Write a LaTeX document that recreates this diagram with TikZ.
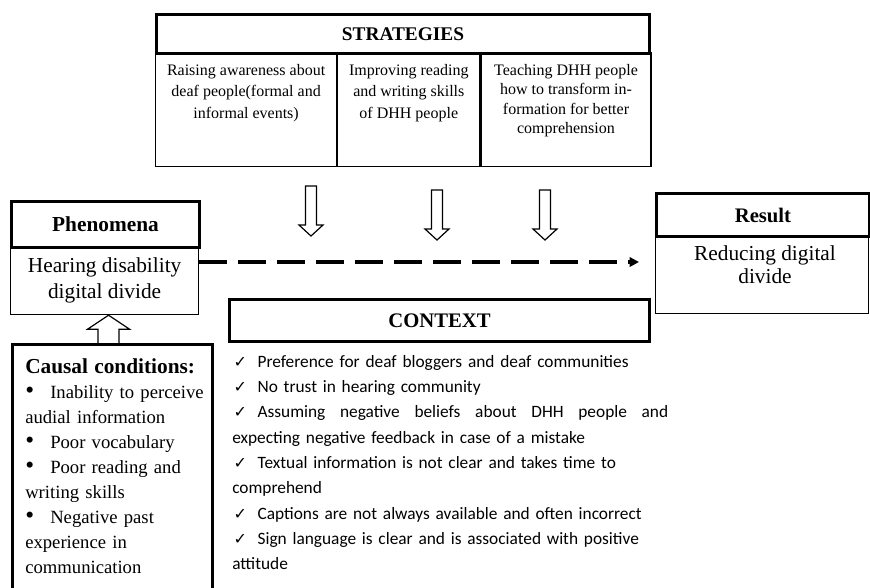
\documentclass[tikz,border=0pt]{standalone}
\usepackage{fontspec}
\setmainfont{Liberation Serif}
\newfontfamily\ctxfont{Carlito}
\newfontfamily\symfont{DejaVu Sans}
\usetikzlibrary{arrows.meta,positioning,calc}

\newcommand{\ck}{\makebox[19pt][l]{\hspace{1pt}\symfont\fontsize{12}{12}\selectfont ✓}}
\newcommand{\bul}{\makebox[18.75pt][l]{\fontsize{19}{19}\selectfont\textbullet}}

\begin{document}
\begin{tikzpicture}[x=0.75pt,y=-0.75pt,
  thinbox/.style={draw,line width=0.9pt,inner sep=0pt,anchor=north west},
  thickbox/.style={draw,line width=2.2pt,inner sep=0pt,anchor=north west},
  headtext/.style={font=\fontsize{15.5}{18}\selectfont\bfseries},
  celltext/.style={font=\fontsize{12}{16}\selectfont,align=center,inner sep=0pt,anchor=north},
  hollow/.style={draw,line width=0.9pt,line join=miter},
  dashline/.style={line width=2.4pt,dash pattern=on 21pt off 8.25pt,-{Triangle[length=7pt,width=7pt]}}]
  \useasboundingbox (0,0) rectangle (870,587);
  \clip (0,0) rectangle (870,587);

  % Strategies table
  \node[thinbox,minimum width=135.75pt,minimum height=85.5pt] (cellA) at (155,52) {};
  \node[thinbox,minimum width=106.5pt,minimum height=85.5pt] (cellB) at (cellA.north east) {};
  \node[thinbox,minimum width=127.5pt,minimum height=85.5pt] (cellC) at (cellB.north east) {};
  \node[thickbox,minimum width=369.75pt,minimum height=29.25pt,headtext,font=\fontsize{14.5}{17}\selectfont\bfseries] (strat) at (155,13) {STRATEGIES};
  \node[celltext] (txtA) at (cellA.north |- 0,64) {Raising awareness about\\deaf people(formal and\\informal events)};
  \node[celltext] (txtB) at (cellB.north |- 0,64) {Improving reading\\and writing skills\\of DHH people};
  \node[celltext,font=\fontsize{12}{14.6}\selectfont] (txtC) at (cellC.north |- 0,64) {Teaching DHH people\\how to transform in-\\formation for better\\comprehension};

  % hollow arrows below the strategies
  \foreach \x/\t/\h/\b in {311/186/225/236, 437/190/229/240, 545/190/229/240}
    \draw[hollow] (\x-5.5,\t) -- (\x+5.5,\t) -- (\x+5.5,\h) -- (\x+12,\h) -- (\x,\b) -- (\x-12,\h) -- (\x-5.5,\h) -- cycle;

  % Phenomena
  \node[thinbox,minimum width=141pt,minimum height=51pt] (phenbody) at (10,246) {};
  \node[thickbox,minimum width=141pt,minimum height=34.5pt,headtext,font=\fontsize{16}{18}\selectfont\bfseries] (phen) at (10,200) {Phenomena};
  \node[font=\fontsize{16}{19.5}\selectfont,align=center] (phentext) at (phenbody.center) {Hearing disability\\digital divide};

  % Result
  \node[thinbox,minimum width=159.75pt,minimum height=58.5pt] (resbody) at (655,235) {};
  \node[thickbox,minimum width=159.75pt,minimum height=32.25pt,headtext] (res) at (655,192) {Result};
  \node[font=\fontsize{16}{17.25}\selectfont,align=center,inner sep=0pt,anchor=north] (restext) at (765,245) {Reducing digital\\divide};

  % dashed link
  \coordinate (dashend) at (639,262);
  \draw[dashline] (phenbody.east |- dashend) -- (dashend);

  % Context
  \node[thickbox,minimum width=315pt,minimum height=31.5pt,headtext] (ctx) at (228,298) {CONTEXT};
  \node[anchor=north west,inner sep=0pt,text width=327pt,align=left,font=\ctxfont\fontsize{13}{19}\selectfont] (ctxtext) at (232,355) {\ck Preference for deaf bloggers and deaf communities\\
    \ck No trust in hearing community\\
    \makebox[327pt][l]{\ck Assuming\hfill negative\hfill beliefs\hfill about\hfill DHH\hfill people\hfill and}\\
    expecting negative feedback in case of a mistake\\
    \ck Textual information is not clear and takes time to\\
    comprehend\\
    \ck Captions are not always available and often incorrect\\
    \ck Sign language is clear and is associated with positive\\
    attitude};

  % Causal conditions
  \node[thickbox,minimum width=150pt,minimum height=207.75pt] (cause) at (11,343) {};
  \node[anchor=north west,inner sep=0pt,text width=140pt,align=left,font=\fontsize{14}{18.75}\selectfont] (causetext) at (25,358) {{\fontsize{16}{18.75}\selectfont\bfseries Causal conditions:}\\
    \bul Inability to perceive\\
    audial information\\
    \bul Poor vocabulary\\
    \bul Poor reading and\\
    writing skills\\
    \bul Negative past\\
    experience in\\
    communication};

  % up arrow
  \coordinate (upx) at ($(phenbody.south)!0.5!(cause.north)$);
  \draw[hollow] (upx |- phenbody.south) -- ++(21,14) -- ++(-10.5,0) -- ++(0,15) -- ++(-21,0) -- ++(0,-15) -- ++(-10.5,0) -- cycle;
\end{tikzpicture}
\end{document}
